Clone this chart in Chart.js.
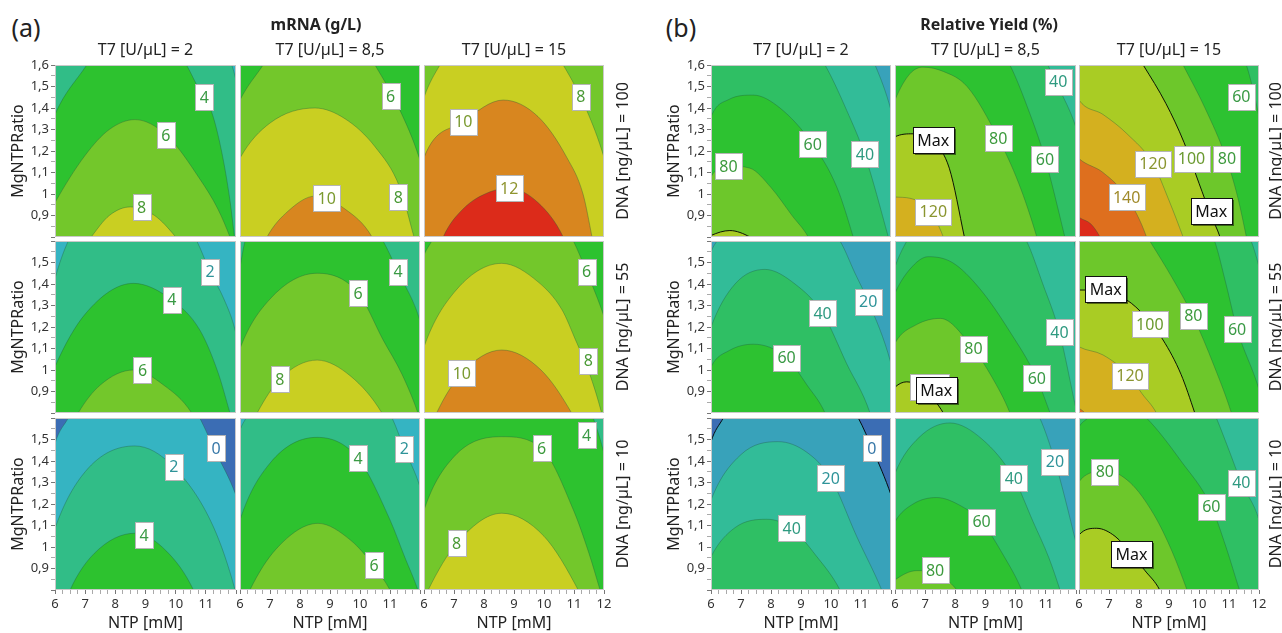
<!DOCTYPE html>
<html>
<head>
<meta charset="utf-8">
<script src="https://cdn.jsdelivr.net/npm/chart.js@4.4.0/dist/chart.umd.min.js"></script>
<style>
  body { margin: 0; background: #fff; }
  #wrap { position: relative; width: 1282px; height: 633px; overflow: hidden; font-family: "Noto Sans", sans-serif; color: #222; }
  #wrap canvas { position: absolute; }
  .txt { position: absolute; white-space: nowrap; transform: translate(-50%, -50%); }
</style>
</head>
<body>
<div id="wrap"></div>
<script>
// contour levels and the colour of each band between them
var mrnaLevels = [0, 2, 4, 6, 8, 10, 12];
var yieldLevels = [0, 20, 40, 60, 80, 100, 120, 140, 160];
var mrnaBands = ['#3b6db4', '#35b4c2', '#31bd87', '#2dc22f', '#73c72b', '#c9cf22', '#d8861f', '#dc2b1a'];
var yieldBands = ['#3b6db4', '#38a2ba', '#32bc98', '#2fbf64', '#2dc231', '#6dc72b', '#a9cc24', '#d4b01f', '#de6f1e', '#dc2b1a'];

var t7Values = ['2', '8,5', '15'];
var dnaValues = ['100', '55', '10'];

// mRNA (g/L): contour lines [level, [[NTP, MgNTPRatio], ...]]
var mrnaDna100T7_2 = [
  [2, [[6, 2.6], [9, 2.3], [11.86, 1.6], [12, 1.53], [12.3, 1.35]]],
  [4, [[5.6, 1.2], [6, 1.37], [7.05, 1.6], [8.7, 1.95], [10.36, 1.6], [10.7, 1.507], [11.19, 1.382], [11.52, 1.2], [11.8, 0.97], [11.95, 0.8], [12.1, 0.65]]],
  [6, [[5.6, 0.85], [6, 0.96], [7, 1.18], [7.8, 1.3], [8.65, 1.346], [9.7, 1.273], [10.8, 1.07], [11.4, 0.93], [11.8, 0.8], [12, 0.72]]],
  [8, [[7, 0.76], [7.2, 0.8], [7.8, 0.9], [8.5, 0.94], [9.3, 0.9], [10, 0.8], [10.2, 0.76]]]
];
var mrnaDna100T7_85 = [
  [4, [[6, 2.5], [9, 2.2], [11.9, 1.65], [12, 1.58], [12.2, 1.4]]],
  [6, [[5.6, 1.3], [6, 1.437], [6.77, 1.6], [8.7, 2.0], [10.5, 1.6], [11.33, 1.39], [11.97, 1.17], [12.3, 1.0]]],
  [8, [[5.5, 1.0], [6, 1.167], [7, 1.33], [8.5, 1.4], [9.5, 1.35], [10.5, 1.22], [11.33, 1.03], [11.8, 0.8], [12, 0.7]]],
  [10, [[6.6, 0.7], [6.9, 0.8], [7.6, 0.92], [8.5, 0.99], [9.5, 0.93], [10.4, 0.8], [10.7, 0.7]]]
];
var mrnaDna100T7_15 = [
  [8, [[5.7, 1.3], [6, 1.45], [6.53, 1.6], [8.6, 2.0], [10.64, 1.6], [11.42, 1.39], [12, 1.17], [12.3, 1.0]]],
  [10, [[5.7, 1.0], [6, 1.17], [7.31, 1.336], [8.64, 1.437], [9.8, 1.36], [10.76, 1.17], [11.3, 1.0], [11.6, 0.8], [11.8, 0.65]]],
  [12, [[6.4, 0.7], [6.64, 0.8], [7.3, 0.93], [8.2, 1.01], [8.85, 1.026], [9.8, 0.96], [10.64, 0.8], [10.9, 0.7]]]
];
var mrnaDna55T7_2 = [
  [0, [[6, 2.6], [10, 2.2], [11.95, 1.62], [12.05, 1.55], [12.3, 1.35]]],
  [2, [[5.7, 1.25], [6, 1.426], [6.44, 1.6], [8.6, 2.05], [10.7, 1.6], [11.14, 1.457], [11.6, 1.33], [11.97, 1.186], [12.3, 0.95]]],
  [4, [[5.7, 0.9], [6, 1.016], [7, 1.26], [8.6, 1.403], [9.87, 1.326], [10.8, 1.186], [11.4, 0.99], [11.8, 0.8], [12, 0.7]]],
  [6, [[6.5, 0.72], [6.77, 0.8], [7.5, 0.93], [8.6, 1.0], [9.6, 0.93], [10.53, 0.8], [10.8, 0.72]]]
];
var mrnaDna55T7_85 = [
  [4, [[5.8, 1.35], [6, 1.48], [6.17, 1.6], [8.5, 2.1], [10.77, 1.6], [11.27, 1.456], [12, 1.23], [12.3, 1.05]]],
  [6, [[5.7, 0.95], [6, 1.10], [7, 1.33], [8.57, 1.45], [9.93, 1.36], [10.77, 1.14], [11.4, 0.98], [11.93, 0.8], [12.1, 0.72]]],
  [8, [[6.3, 0.72], [6.57, 0.8], [7.33, 0.958], [8.57, 1.046], [9.7, 0.97], [10.73, 0.8], [11, 0.72]]]
];
var mrnaDna55T7_15 = [
  [6, [[5.8, 1.45], [6, 1.535], [6.26, 1.6], [8.6, 2.2], [10.98, 1.6], [11.42, 1.457], [12, 1.248], [12.3, 1.1]]],
  [8, [[5.7, 0.95], [6, 1.108], [7, 1.36], [8.59, 1.496], [9.8, 1.41], [10.6, 1.28], [11.05, 1.14], [11.5, 0.99], [11.92, 0.8], [12.05, 0.72]]],
  [10, [[6.2, 0.72], [6.42, 0.8], [7.26, 0.985], [8.59, 1.093], [9.9, 1.0], [10.92, 0.8], [11.2, 0.72]]]
];
var mrnaDna10T7_2 = [
  [0, [[5.8, 1.35], [6, 1.482], [6.44, 1.6], [8.6, 2.15], [10.8, 1.6], [11.3, 1.45], [12, 1.24], [12.3, 1.1]]],
  [2, [[5.7, 0.93], [6, 1.087], [7, 1.35], [8.65, 1.47], [9.92, 1.374], [11.25, 1.094], [11.97, 0.8], [12.1, 0.72]]],
  [4, [[6.3, 0.72], [6.5, 0.8], [7.3, 0.97], [8.65, 1.064], [9.7, 0.98], [10.59, 0.8], [10.8, 0.72]]]
];
var mrnaDna10T7_85 = [
  [2, [[5.8, 1.45], [6, 1.545], [6.2, 1.6], [8.6, 2.2], [11.07, 1.6], [11.47, 1.46], [12, 1.28], [12.3, 1.12]]],
  [4, [[5.7, 0.95], [6, 1.126], [7, 1.39], [8.57, 1.51], [9.93, 1.413], [11.0, 1.126], [11.5, 0.95], [11.93, 0.8], [12.1, 0.72]]],
  [6, [[6.1, 0.72], [6.33, 0.8], [7.2, 0.99], [8.6, 1.11], [9.7, 1.03], [10.47, 0.91], [11.0, 0.8], [11.2, 0.74]]]
];
var mrnaDna10T7_15 = [
  [4, [[6, 2.6], [10, 2.1], [11.64, 1.6], [12, 1.436], [12.3, 1.25]]],
  [6, [[5.7, 1.0], [6, 1.172], [7, 1.42], [8.59, 1.513], [9.92, 1.459], [10.98, 1.172], [11.5, 0.97], [11.87, 0.8], [12.05, 0.72]]],
  [8, [[5.9, 0.72], [6.14, 0.8], [7.09, 1.017], [8.59, 1.157], [10.0, 1.05], [11.14, 0.8], [11.4, 0.72]]]
];

// Relative Yield (%): contour lines
var yieldDna100T7_2 = [
  [20, [[6, 2.5], [10, 2.0], [11.47, 1.6], [12, 1.39], [12.3, 1.2]]],
  [40, [[6, 2.1], [8, 1.95], [9.8, 1.6], [10.52, 1.39], [11.13, 1.18], [11.91, 0.8], [12.1, 0.7]]],
  [60, [[5.8, 1.25], [6, 1.359], [6.6, 1.44], [7.41, 1.46], [8.3, 1.40], [9.39, 1.231], [10.2, 1.03], [10.74, 0.8], [10.9, 0.72]]],
  [80, [[5.8, 1.0], [6, 1.08], [6.6, 1.13], [7.3, 1.12], [8, 1.03], [8.7, 0.9], [9.24, 0.8], [9.4, 0.75]]],
  [100, [[5.8, 0.79], [6, 0.807], [6.63, 0.83], [7.3, 0.8], [7.5, 0.78]]]
];
var yieldDna100T7_85 = [
  [40, [[6, 2.6], [10, 2.0], [11.07, 1.6], [11.41, 1.5], [12, 1.31], [12.3, 1.15]]],
  [60, [[6, 2.2], [8, 2.0], [9.81, 1.6], [10.4, 1.40], [10.97, 1.167], [11.63, 0.8], [11.8, 0.7]]],
  [80, [[5.8, 1.35], [6, 1.437], [6.5, 1.56], [6.93, 1.59], [7.6, 1.57], [8.39, 1.5], [9.42, 1.26], [10.1, 1.05], [10.7, 0.8], [10.85, 0.72]]],
  [100, [[5.8, 1.2], [6, 1.266], [6.6, 1.28], [7.3, 1.24], [7.8, 1.12], [8.3, 0.8], [8.45, 0.7]]],
  [120, [[5.8, 0.99], [6, 0.986], [6.5, 0.98], [7.1, 0.93], [7.6, 0.8], [7.7, 0.75]]]
];
var yieldDna100T7_15 = [
  [60, [[6, 2.6], [10, 2.1], [11.58, 1.6], [12, 1.36], [12.2, 1.2]]],
  [80, [[6, 2.3], [8, 2.0], [9.47, 1.6], [10.2, 1.4], [10.91, 1.165], [11.3, 0.98], [11.58, 0.8], [11.7, 0.72]]],
  [100, [[6, 2.0], [7, 1.85], [8.14, 1.6], [8.9, 1.42], [9.5, 1.24], [10.0, 1.05], [10.4, 0.9], [10.7, 0.8], [10.8, 0.75]]],
  [120, [[5.8, 1.5], [6, 1.437], [6.8, 1.37], [7.6, 1.28], [8.47, 1.14], [9.0, 0.97], [9.47, 0.8], [9.6, 0.75]]],
  [140, [[5.8, 1.2], [6, 1.165], [6.8, 1.1], [7.59, 0.986], [8.25, 0.8], [8.35, 0.75]]],
  [160, [[5.8, 0.92], [6, 0.892], [6.4, 0.86], [6.7, 0.8], [6.8, 0.77]]]
];
var yieldDna55T7_2 = [
  [20, [[5.8, 1.45], [6, 1.55], [6.2, 1.6], [8, 1.95], [10.3, 1.6], [10.8, 1.45], [11.24, 1.32], [12, 1.03], [12.2, 0.9]]],
  [40, [[5.8, 1.1], [6, 1.2], [6.8, 1.4], [7.8, 1.468], [8.8, 1.40], [9.72, 1.264], [10.52, 1.03], [11.3, 0.8], [11.45, 0.72]]],
  [60, [[5.8, 0.93], [6, 1.015], [6.6, 1.09], [7.41, 1.12], [8.52, 1.057], [9.2, 0.93], [9.8, 0.8], [9.95, 0.74]]]
];
var yieldDna55T7_85 = [
  [20, [[6, 2.8], [10, 2.0], [11.9, 1.65], [12, 1.55], [12.2, 1.4]]],
  [40, [[5.8, 1.38], [6, 1.48], [6.39, 1.6], [8.3, 2.0], [10.36, 1.6], [10.9, 1.4], [11.45, 1.175], [12, 0.82], [12.2, 0.7]]],
  [60, [[5.8, 1.28], [6, 1.358], [6.5, 1.47], [7.1, 1.527], [7.9, 1.5], [8.8, 1.38], [9.8, 1.18], [10.7, 0.961], [11.14, 0.8], [11.3, 0.74]]],
  [80, [[5.8, 1.05], [6, 1.125], [6.7, 1.21], [7.5, 1.24], [8.6, 1.098], [9.2, 0.97], [9.81, 0.8], [9.95, 0.74]]],
  [100, [[5.8, 0.88], [6, 0.92], [6.39, 0.945], [6.9, 0.92], [7.3, 0.86], [7.6, 0.8], [7.7, 0.77]]]
];
var yieldDna55T7_15 = [
  [40, [[6, 2.8], [10, 2.1], [11.74, 1.6], [12, 1.48], [12.2, 1.35]]],
  [60, [[6, 2.4], [9, 2.0], [10.52, 1.6], [10.9, 1.4], [11.27, 1.19], [12, 0.91], [12.2, 0.8]]],
  [80, [[6, 2.1], [7, 1.9], [8.36, 1.6], [9.1, 1.43], [9.8, 1.25], [10.5, 1.02], [11.08, 0.8], [11.2, 0.74]]],
  [100, [[5.8, 1.35], [6, 1.372], [6.8, 1.37], [7.59, 1.326], [8.2, 1.25], [8.8, 1.14], [9.4, 0.98], [9.86, 0.8], [10, 0.74]]],
  [120, [[5.8, 1.13], [6, 1.108], [6.8, 1.07], [7.67, 0.974], [8.1, 0.89], [8.58, 0.8], [8.7, 0.76]]],
  [140, [[5.8, 0.84], [6, 0.822], [6.2, 0.8], [6.3, 0.78]]]
];
var yieldDna10T7_2 = [
  [0, [[5.8, 1.37], [6, 1.49], [6.41, 1.6], [8.5, 2.1], [10.91, 1.6], [11.4, 1.45], [12, 1.242], [12.3, 1.1]]],
  [20, [[5.8, 1.12], [6, 1.219], [7, 1.43], [8.24, 1.49], [9.2, 1.44], [9.99, 1.32], [10.86, 1.048], [11.69, 0.8], [11.85, 0.74]]],
  [40, [[5.8, 0.88], [6, 0.955], [6.8, 1.09], [7.86, 1.129], [8.69, 1.087], [9.5, 0.96], [10.3, 0.8], [10.45, 0.75]]]
];
var yieldDna10T7_85 = [
  [20, [[6, 2.3], [9, 2.0], [10.8, 1.6], [11.3, 1.4], [12, 1.02], [12.2, 0.9]]],
  [40, [[5.8, 1.25], [6, 1.343], [6.8, 1.51], [7.82, 1.577], [8.9, 1.5], [9.94, 1.32], [10.57, 1.12], [11.1, 0.95], [11.47, 0.8], [11.6, 0.74]]],
  [60, [[5.8, 1.05], [6, 1.118], [6.6, 1.2], [7.38, 1.23], [8.2, 1.19], [8.87, 1.118], [9.6, 0.96], [10.2, 0.8], [10.35, 0.74]]],
  [80, [[5.8, 0.82], [6, 0.847], [6.72, 0.89], [7.33, 0.88], [7.7, 0.85], [8.05, 0.8], [8.2, 0.77]]]
];
var yieldDna10T7_15 = [
  [40, [[6, 2.5], [9, 2.1], [10.58, 1.6], [11.0, 1.45], [11.41, 1.3], [12, 1.126], [12.2, 1.0]]],
  [60, [[5.8, 1.5], [6, 1.56], [6.3, 1.6], [7.3, 1.7], [8.25, 1.6], [9.4, 1.4], [10.41, 1.188], [10.9, 1.0], [11.35, 0.8], [11.5, 0.74]]],
  [80, [[5.8, 1.25], [6, 1.304], [6.5, 1.35], [6.9, 1.355], [7.7, 1.3], [8.5, 1.15], [9.1, 0.98], [9.6, 0.8], [9.75, 0.74]]],
  [100, [[5.8, 1.0], [6, 1.056], [6.59, 1.087], [7.2, 1.05], [7.75, 0.967], [8.2, 0.89], [8.69, 0.8], [8.8, 0.76]]]
];

// contour labels: [text, NTP, MgNTPRatio]
var mrnaLabels100_2 = [['4', 10.95, 1.449], ['6', 9.67, 1.273], ['8', 8.87, 0.939]];
var mrnaLabels100_85 = [['6', 11.02, 1.456], ['10', 8.89, 0.98], ['8', 11.28, 0.986]];
var mrnaLabels100_15 = [['8', 11.23, 1.453], ['10', 7.31, 1.336], ['12', 8.84, 1.026]];
var mrnaLabels55_2 = [['2', 11.14, 1.457], ['4', 9.87, 1.326], ['6', 8.9, 1.0]];
var mrnaLabels55_85 = [['4', 11.27, 1.457], ['6', 9.94, 1.357], ['8', 7.33, 0.958]];
var mrnaLabels55_15 = [['6', 11.42, 1.457], ['8', 11.48, 1.043], ['10', 7.26, 0.985]];
var mrnaLabels10_2 = [['0', 11.34, 1.459], ['2', 9.94, 1.374], ['4', 8.95, 1.056]];
var mrnaLabels10_85 = [['2', 11.48, 1.458], ['4', 9.94, 1.412], ['6', 10.47, 0.916]];
var mrnaLabels10_15 = [['4', 11.42, 1.521], ['6', 9.92, 1.459], ['8', 7.09, 1.017]];
var yieldLabels100_2 = [['80', 6.58, 1.13], ['60', 9.39, 1.231], ['40', 11.13, 1.185]];
var yieldLabels100_85 = [['Max', 7.27, 1.251], ['120', 7.27, 0.918], ['40', 11.41, 1.522], ['80', 9.42, 1.259], ['60', 10.97, 1.161]];
var yieldLabels100_15 = [['60', 11.41, 1.452], ['120', 8.47, 1.141], ['100', 9.75, 1.165], ['80', 10.93, 1.165], ['140', 7.59, 0.986], ['Max', 10.41, 0.92]];
var yieldLabels55_2 = [['20', 11.24, 1.318], ['40', 9.72, 1.264], ['60', 8.52, 1.057]];
var yieldLabels55_85 = [['', 7.13, 0.92], ['Max', 7.37, 0.905], ['80', 8.6, 1.098], ['60', 10.7, 0.961], ['40', 11.45, 1.175]];
var yieldLabels55_15 = [['Max', 6.89, 1.377], ['100', 8.36, 1.214], ['80', 9.81, 1.253], ['60', 11.27, 1.189], ['120', 7.7, 0.974]];
var yieldLabels10_2 = [['0', 11.36, 1.459], ['20', 9.99, 1.32], ['40', 8.69, 1.087]];
var yieldLabels10_85 = [['80', 7.33, 0.893], ['60', 8.87, 1.118], ['40', 9.94, 1.32], ['20', 11.3, 1.397]];
var yieldLabels10_15 = [['80', 6.86, 1.35], ['60', 10.41, 1.188], ['40', 11.41, 1.3], ['Max', 7.75, 0.967]];

var mrnaPanels = [
  [mrnaDna100T7_2, mrnaDna100T7_85, mrnaDna100T7_15],
  [mrnaDna55T7_2, mrnaDna55T7_85, mrnaDna55T7_15],
  [mrnaDna10T7_2, mrnaDna10T7_85, mrnaDna10T7_15]
];
var yieldPanels = [
  [yieldDna100T7_2, yieldDna100T7_85, yieldDna100T7_15],
  [yieldDna55T7_2, yieldDna55T7_85, yieldDna55T7_15],
  [yieldDna10T7_2, yieldDna10T7_85, yieldDna10T7_15]
];
var mrnaLabelSets = [
  [mrnaLabels100_2, mrnaLabels100_85, mrnaLabels100_15],
  [mrnaLabels55_2, mrnaLabels55_85, mrnaLabels55_15],
  [mrnaLabels10_2, mrnaLabels10_85, mrnaLabels10_15]
];
var yieldLabelSets = [
  [yieldLabels100_2, yieldLabels100_85, yieldLabels100_15],
  [yieldLabels55_2, yieldLabels55_85, yieldLabels55_15],
  [yieldLabels10_2, yieldLabels10_85, yieldLabels10_15]
];

// label text colours by level
var mrnaTextColors = { '0': '#3878a8', '2': '#2f9499', '4': '#3a9a45', '6': '#3d9a3d', '8': '#4a9a35', '10': '#7a9a30', '12': '#8f9530' };
var yieldTextColors = { '0': '#3878a8', '20': '#2f9499', '40': '#2f9a80', '60': '#3a9a45', '80': '#3d9a3d', '100': '#6a9a30', '120': '#8a9530', '140': '#a08a2a' };

// page layout (pixels)
var colLeft = [[55, 240, 424], [711, 895, 1079]];
var colRight = [[236, 420, 604], [891, 1076, 1259]];
var rowTop = [65, 241, 418];
var rowBottom = [237, 413, 590];
var PAD = 12, YAXIS_W = 50, XAXIS_H = 43;
var FONT = '"Noto Sans", sans-serif';

Chart.defaults.font.family = FONT;

var wrap = document.getElementById('wrap');

function addText(text, cx, cy, size, weight, rotate) {
  var d = document.createElement('div');
  d.className = 'txt';
  d.textContent = text;
  d.style.left = cx + 'px';
  d.style.top = cy + 'px';
  d.style.fontSize = size + 'px';
  d.style.fontWeight = weight;
  if (rotate) d.style.transform = 'translate(-50%, -50%) rotate(-90deg)';
  wrap.appendChild(d);
}

function makePanel(group, r, c) {
  var isYield = group === 1;
  var curves = (isYield ? yieldPanels : mrnaPanels)[r][c];
  var labels = (isYield ? yieldLabelSets : mrnaLabelSets)[r][c];
  var levels = isYield ? yieldLevels : mrnaLevels;
  var bands = isYield ? yieldBands : mrnaBands;
  var textColors = isYield ? yieldTextColors : mrnaTextColors;

  var showY = c === 0, showX = r === 2;
  var yw = showY ? YAXIS_W : 0;
  var xh = showX ? XAXIS_H : 0;
  var w = colRight[group][c] - colLeft[group][c] + yw + 2 * PAD;
  var h = rowBottom[r] - rowTop[r] + xh + 2 * PAD;

  var canvas = document.createElement('canvas');
  canvas.width = w;
  canvas.height = h;
  canvas.style.width = w + 'px';
  canvas.style.height = h + 'px';
  canvas.style.left = (colLeft[group][c] - yw - PAD) + 'px';
  canvas.style.top = (rowTop[r] - PAD) + 'px';
  wrap.appendChild(canvas);

  var datasets = [];
  var lowest = levels.indexOf(curves[0][0]);
  datasets.push({
    data: [{ x: 6, y: 1.6 }, { x: 12, y: 1.6 }],
    fill: 'start',
    backgroundColor: bands[lowest],
    borderColor: 'rgba(0,0,0,0)',
    borderWidth: 0,
    pointRadius: 0,
    order: 1000
  });
  curves.forEach(function(cv, k) {
    var li = levels.indexOf(cv[0]);
    var black = isYield && (cv[0] === 0 || cv[0] === 100);
    datasets.push({
      data: cv[1].map(function(p) { return { x: p[0], y: p[1] }; }),
      fill: 'start',
      backgroundColor: bands[li + 1],
      borderColor: black ? 'rgba(0,0,0,0.9)' : 'rgba(30,90,60,0.45)',
      borderWidth: black ? 1 : 0.8,
      pointRadius: 0,
      cubicInterpolationMode: 'monotone',
      order: 100 - k
    });
  });

  var labelPlugin = {
    id: 'contourLabels',
    afterDatasetsDraw: function(chart) {
      var ctx = chart.ctx, a = chart.chartArea;
      var xs = chart.scales.x, ys = chart.scales.y;
      ctx.save();
      ctx.beginPath();
      ctx.rect(a.left, a.top, a.right - a.left, a.bottom - a.top);
      ctx.clip();
      ctx.font = '16px ' + FONT;
      ctx.textAlign = 'center';
      ctx.textBaseline = 'middle';
      labels.forEach(function(lb) {
        var px = xs.getPixelForValue(lb[1]);
        var py = ys.getPixelForValue(lb[2]);
        var tw = lb[0] ? ctx.measureText(lb[0]).width : 30;
        var bw = Math.round(tw + 9), bh = 26;
        var x0 = Math.round(px - bw / 2) + 0.5, y0 = Math.round(py - bh / 2) + 0.5;
        var isMax = lb[0] === 'Max';
        if (isMax) {
          ctx.fillStyle = 'rgba(0,0,0,0.5)';
          ctx.fillRect(x0 + 1.5, y0 + 1.5, bw, bh);
        }
        ctx.fillStyle = '#fff';
        ctx.fillRect(x0, y0, bw, bh);
        ctx.lineWidth = 1;
        ctx.strokeStyle = isMax ? '#111' : '#b5b5b5';
        ctx.strokeRect(x0, y0, bw, bh);
        ctx.fillStyle = isMax ? '#111' : (textColors[lb[0]] || '#3d9a3d');
        ctx.fillText(lb[0], px, py + 1);
      });
      ctx.restore();
      ctx.save();
      ctx.strokeStyle = '#c9c9c9';
      ctx.lineWidth = 1;
      ctx.strokeRect(Math.round(a.left) + 0.5, Math.round(a.top) + 0.5, Math.round(a.right - a.left) - 1, Math.round(a.bottom - a.top) - 1);
      ctx.restore();
    }
  };

  new Chart(canvas.getContext('2d'), {
    type: 'line',
    data: { datasets: datasets },
    options: {
      responsive: false,
      animation: false,
      events: [],
      layout: { padding: PAD },
      plugins: { legend: { display: false }, tooltip: { enabled: false } },
      scales: {
        x: {
          type: 'linear',
          min: 6,
          max: 12,
          display: showX,
          border: { display: false },
          grid: {
            drawOnChartArea: false,
            drawTicks: true,
            tickLength: 4,
            tickColor: function(ctx) {
              var v = ctx.tick ? ctx.tick.value : 0;
              return Math.abs(v - Math.round(v)) < 1e-6 ? '#777' : '#aaa';
            }
          },
          ticks: {
            stepSize: 0.25,
            autoSkip: false,
            maxRotation: 0,
            padding: 2,
            color: '#333',
            font: { size: 13 },
            callback: function(v) {
              if (Math.abs(v - Math.round(v)) > 1e-6) return '';
              var n = Math.round(v);
              if (n === 12 && c < 2) return '';
              return String(n);
            }
          },
          title: { display: true, text: 'NTP [mM]', color: '#222', font: { size: 16 }, padding: { top: 0, bottom: 0 } },
          afterFit: function(s) { if (showX) s.height = XAXIS_H; }
        },
        y: {
          min: 0.8,
          max: 1.6,
          display: showY,
          border: { display: false },
          grid: {
            drawOnChartArea: false,
            drawTicks: true,
            tickLength: 4,
            tickColor: function(ctx) {
              var t = ctx.tick ? Math.round(ctx.tick.value * 100) : 0;
              return t % 10 === 0 ? '#777' : '#aaa';
            }
          },
          ticks: {
            stepSize: 0.05,
            autoSkip: false,
            padding: 2,
            color: '#333',
            font: { size: 13 },
            callback: function(v) {
              var t = Math.round(v * 100);
              if (t % 10 !== 0 || t === 80) return '';
              if (t === 160 && r > 0) return '';
              return String(t / 100).replace('.', ',');
            }
          },
          title: { display: true, text: 'MgNTPRatio', color: '#222', font: { size: 16 }, padding: { top: 4, bottom: 0 } },
          afterFit: function(s) { if (showY) s.width = YAXIS_W; }
        }
      }
    },
    plugins: [labelPlugin]
  });
}

for (var g = 0; g < 2; g++) {
  for (var r = 0; r < 3; r++) {
    for (var c = 0; c < 3; c++) makePanel(g, r, c);
  }
}

// titles and strip labels
addText('(a)', 26, 27, 25, 'normal', false);
addText('mRNA (g/L)', 316, 24, 16, 'bold', false);
addText('(b)', 681, 27, 25, 'normal', false);
addText('Relative Yield (%)', 989, 24, 16, 'bold', false);
for (var gi = 0; gi < 2; gi++) {
  for (var ci = 0; ci < 3; ci++) {
    addText('T7 [U/µL] = ' + t7Values[ci], (colLeft[gi][ci] + colRight[gi][ci]) / 2, 49, 16, 'normal', false);
  }
  for (var ri = 0; ri < 3; ri++) {
    addText('DNA [ng/µL] = ' + dnaValues[ri], gi === 0 ? 622 : 1275, (rowTop[ri] + rowBottom[ri]) / 2, 16, 'normal', true);
  }
}
</script>
</body>
</html>
